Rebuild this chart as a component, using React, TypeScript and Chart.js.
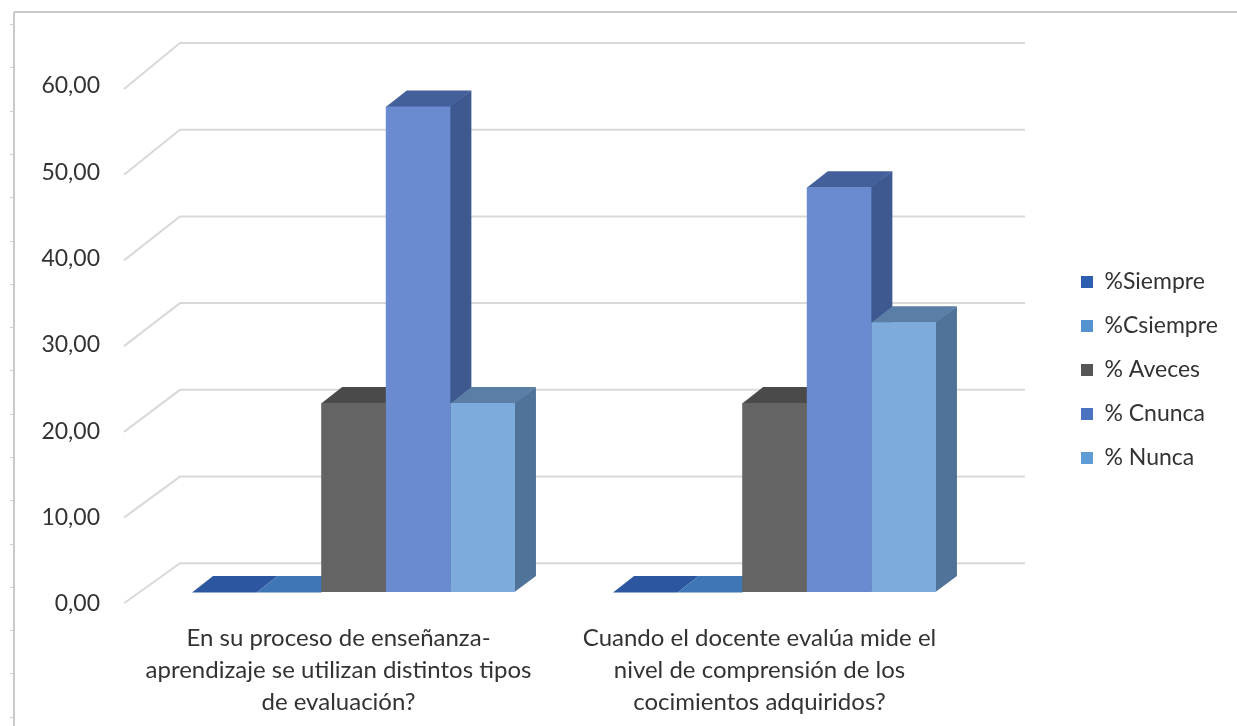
import React, { useEffect, useRef } from 'react';
import { Chart, registerables } from 'chart.js';

Chart.register(...registerables);

// ---- data ----
const categories: string[][] = [
  ['En su proceso de enseñanza-', 'aprendizaje se utilizan distintos tipos', 'de evaluación?'],
  ['Cuando el docente evalúa mide el', 'nivel de comprensión de los', 'cocimientos adquiridos?'],
];
const seriesNames = ['%Siempre', '%Csiempre', '% Aveces', '% Cnunca', '% Nunca'];
const siempre = [0, 0];
const casiSiempre = [0, 0];
const aVeces = [21.88, 21.88];
const casiNunca = [56.25, 46.88];
const nunca = [21.88, 31.25];
const yTicks = [0, 10, 20, 30, 40, 50, 60];

// ---- styles ----
const palette = [
  { front: '#2F5BA6', top: '#2C569F', side: '#244A8A', key: '#2E5EAF' },
  { front: '#4A86C8', top: '#3F76B6', side: '#35659D', key: '#5592D0' },
  { front: '#646464', top: '#4A4A4A', side: '#414141', key: '#555555' },
  { front: '#6A8BCF', top: '#44609A', side: '#3E5990', key: '#4A72C0' },
  { front: '#7CABDC', top: '#5A7EA6', side: '#50739A', key: '#5E9CD6' },
];

const W = 1237;
const H = 726;
const FONT = 'Lato';
const FS = 23;
const CAT_FS = 24;
const PLOT_LEFT = 143;
const PLOT_RIGHT = 985;
const PLOT_TOP = 74;
const PLOT_BOTTOM = 592;
const LEGEND_X = 1081;
const LEGEND_FIRST_Y = 270.5;
const LEGEND_PAD = 21;
const LEGEND_BOX = 12;
const DEPTH_X = 21;
const DEPTH_Y = -16;

const fmt = (v: number) => v.toFixed(2).replace('.', ',');

// page frame with its ruler marks
const framePlugin = {
  id: 'frame',
  beforeDraw(chart: any) {
    const ctx = chart.ctx;
    ctx.save();
    ctx.fillStyle = '#ffffff';
    ctx.fillRect(0, 0, W, H);
    ctx.strokeStyle = '#c9c9c9';
    ctx.lineWidth = 2;
    ctx.beginPath();
    ctx.moveTo(14, 12);
    ctx.lineTo(W, 12);
    ctx.moveTo(14, 12);
    ctx.lineTo(14, H);
    ctx.stroke();
    ctx.lineWidth = 1;
    ctx.strokeStyle = '#cfcfcf';
    ctx.beginPath();
    for (let y = 24; y < H; y += 43.3) {
      ctx.moveTo(10, Math.round(y) + 0.5);
      ctx.lineTo(14, Math.round(y) + 0.5);
    }
    ctx.stroke();
    ctx.restore();
  },
};

// back-wall gridlines plus the top and side faces of each column
const depthPlugin = {
  id: 'depth3d',
  beforeDatasetsDraw(chart: any) {
    const ctx = chart.ctx;
    const ys = chart.scales.y;
    const area = chart.chartArea;
    const y0 = ys.getPixelForValue(0);
    ctx.save();
    ctx.strokeStyle = '#d9d9d9';
    ctx.lineWidth = 2;
    ys.ticks.forEach((t: any) => {
      const p = ys.getPixelForValue(t.value);
      const back = y0 - 28.7 + (p - y0) * 1.0046;
      const front = y0 + 11.3 + (p - y0) * 0.993;
      ctx.beginPath();
      ctx.moveTo(area.left - 19, front);
      ctx.lineTo(area.left + 37, back);
      ctx.lineTo(area.right + 40, back);
      ctx.stroke();
    });

    const n = chart.data.labels.length;
    for (let c = 0; c < n; c++) {
      chart.data.datasets.forEach((ds: any, i: number) => {
        const bar = chart.getDatasetMeta(i).data[c];
        if (!bar) return;
        const { x, y, base, width } = bar.getProps(['x', 'y', 'base', 'width'], true);
        const x1 = x - width / 2;
        const x2 = x + width / 2;
        ctx.fillStyle = ds.sideColor;
        ctx.beginPath();
        ctx.moveTo(x2 - 0.5, y);
        ctx.lineTo(x2 + DEPTH_X, y + DEPTH_Y);
        ctx.lineTo(x2 + DEPTH_X, base + DEPTH_Y);
        ctx.lineTo(x2 - 0.5, base);
        ctx.closePath();
        ctx.fill();
        ctx.fillStyle = ds.topColor;
        ctx.beginPath();
        ctx.moveTo(x1, y + 0.5);
        ctx.lineTo(x2, y + 0.5);
        ctx.lineTo(x2 + DEPTH_X, y + DEPTH_Y);
        ctx.lineTo(x1 + DEPTH_X, y + DEPTH_Y);
        ctx.closePath();
        ctx.fill();
      });
    }
    ctx.restore();
  },
};

export default function App() {
  const ref = useRef<HTMLCanvasElement | null>(null);

  useEffect(() => {
    const canvas = ref.current;
    if (!canvas) return;

    const m = document.createElement('canvas').getContext('2d')!;
    m.font = `${FS}px ${FONT}`;
    const textW = Math.max(...seriesNames.map((s) => m.measureText(s).width));
    const legendW = LEGEND_PAD + LEGEND_BOX + FS / 2 + textW + 10;
    const padRight = W - legendW + LEGEND_PAD - LEGEND_X;
    const gapW = LEGEND_X - LEGEND_PAD - PLOT_RIGHT;
    // empty legend title used as a spacer above the first entry
    const spacer = LEGEND_FIRST_Y - PLOT_TOP - LEGEND_PAD - 10;

    const series = [siempre, casiSiempre, aVeces, casiNunca, nunca];
    const chart = new Chart(canvas, {
      type: 'bar',
      data: {
        labels: categories,
        datasets: series.map((values, i) => ({
          label: seriesNames[i],
          data: values,
          backgroundColor: palette[i].front,
          borderWidth: 0,
          topColor: palette[i].top,
          sideColor: palette[i].side,
          categoryPercentage: 0.767,
          barPercentage: 1,
        })) as any,
      },
      options: {
        responsive: false,
        animation: false,
        devicePixelRatio: 1,
        layout: { padding: { top: PLOT_TOP, left: 0, right: padRight, bottom: 0 } },
        plugins: {
          tooltip: { enabled: false },
          legend: {
            position: 'right',
            align: 'start',
            title: {
              display: true,
              text: '',
              font: { family: FONT, size: 10, lineHeight: 1 },
              padding: { top: spacer, bottom: 0 },
            },
            labels: {
              font: { family: FONT, size: FS },
              color: '#333333',
              boxWidth: LEGEND_BOX,
              boxHeight: LEGEND_BOX,
              padding: LEGEND_PAD,
              generateLabels(c: any) {
                const items = Chart.defaults.plugins.legend.labels.generateLabels(c);
                return items.map((it: any, i: number) => ({
                  ...it,
                  fillStyle: palette[i].key,
                  strokeStyle: palette[i].key,
                  lineWidth: 0,
                }));
              },
            },
          },
        },
        scales: {
          x: {
            grid: { display: false },
            border: { display: false },
            ticks: {
              font: { family: FONT, size: CAT_FS, lineHeight: 1.34 },
              color: '#333333',
              padding: 22,
              labelOffset: -15,
              maxRotation: 0,
              autoSkip: false,
            },
            afterFit(s: any) {
              s.height = H - PLOT_BOTTOM;
            },
          },
          y: {
            min: yTicks[0],
            max: yTicks[yTicks.length - 1],
            grid: { display: false },
            border: { display: false },
            afterBuildTicks(s: any) {
              s.ticks = yTicks.map((v) => ({ value: v }));
            },
            ticks: {
              font: { family: FONT, size: FS },
              color: '#333333',
              padding: 35,
              labelOffset: 12,
              callback: (v: any) => fmt(Number(v)),
            },
            afterFit(s: any) {
              s.width = PLOT_LEFT;
            },
          },
          gap: {
            type: 'linear',
            position: 'right',
            grid: { display: false },
            border: { display: false },
            ticks: { display: false },
            afterFit(s: any) {
              s.width = gapW;
            },
          },
        },
      } as any,
      plugins: [framePlugin, depthPlugin],
    });

    return () => chart.destroy();
  }, []);

  return (
    <div style={{ position: 'absolute', left: 0, top: 0, width: W, height: H }}>
      <canvas ref={ref} width={W} height={H} style={{ display: 'block' }} />
    </div>
  );
}
